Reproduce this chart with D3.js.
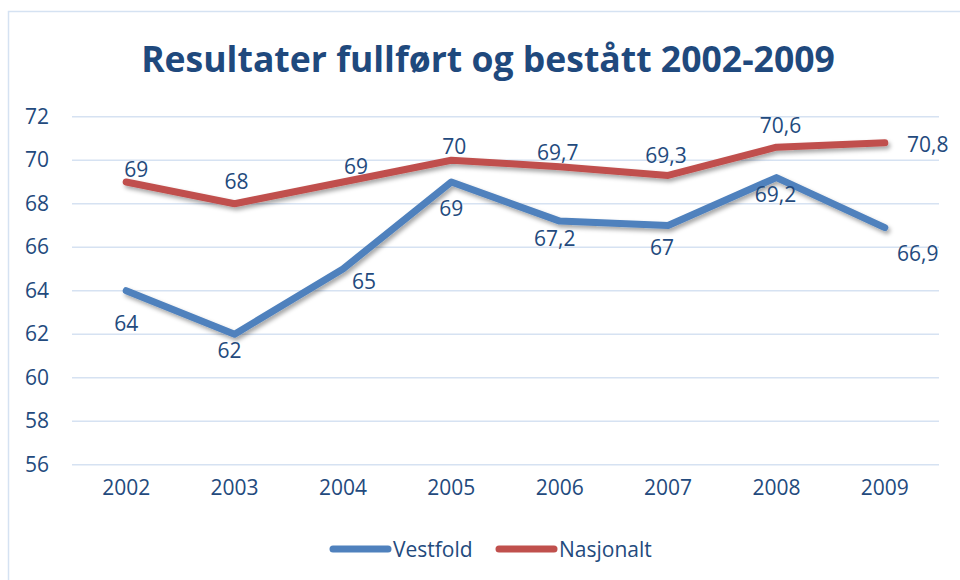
<!DOCTYPE html>
<html>
<head>
<meta charset="utf-8">
<script src="https://cdn.jsdelivr.net/npm/d3@7"></script>
<style>
  html, body { margin: 0; padding: 0; background: #fff; }
  svg { display: block; }
  text { font-family: "Open Sans", "Noto Sans", sans-serif; fill: #234a7d; }
</style>
</head>
<body>
<svg id="chart" width="960" height="580"></svg>
<script>
// ---- data ----
const years = ["2002", "2003", "2004", "2005", "2006", "2007", "2008", "2009"];
const vestfold = [64, 62, 65, 69, 67.2, 67, 69.2, 66.9];
const nasjonalt = [69, 68, 69, 70, 69.7, 69.3, 70.6, 70.8];
const seriesNames = ["Vestfold", "Nasjonalt"];
const yTicks = [56, 58, 60, 62, 64, 66, 68, 70, 72];
const titleText = "Resultater fullført og bestått 2002-2009";

// ---- layout / style (not data) ----
const colors = ["#4f81bd", "#c0504d"];
const labelOffsets = [
  [[0, 33], [-5, 16], [21, 12], [0, 26], [-5, 17], [-6, 22], [-1, 17], [33, 26]],
  [[10, -13], [2, -22], [13, -16], [3, -14], [-2, -14], [-2, -20], [4, -22], [43, 2]]
];
const fmt = v => String(v).replace(".", ",");

const svg = d3.select("#chart");
const defs = svg.append("defs");
const f = defs.append("filter").attr("id", "shadow")
  .attr("x", "-10%").attr("y", "-30%").attr("width", "120%").attr("height", "160%");
f.append("feDropShadow").attr("dx", 2).attr("dy", 3).attr("stdDeviation", 2)
  .attr("flood-color", "#000").attr("flood-opacity", 0.35);

// frame
svg.append("rect").attr("x", 8.5).attr("y", 11.5).attr("width", 1000).attr("height", 1000)
  .attr("fill", "none").attr("stroke", "#d5e2f2").attr("stroke-width", 1.5);

const x = d3.scaleBand().domain(years).range([72, 939]).padding(0);
const y = d3.scaleLinear().domain([56, 72]).range([464.7, 116.7]);

// gridlines
svg.append("g").selectAll("line").data(yTicks).join("line")
  .attr("x1", 72).attr("x2", 939)
  .attr("y1", d => y(d)).attr("y2", d => y(d))
  .attr("stroke", "#d6e2f2").attr("stroke-width", 1.5);

// y axis
const yAxis = svg.append("g").attr("transform", "translate(49,0)")
  .call(d3.axisLeft(y).tickValues(yTicks).tickSize(0).tickPadding(0));
yAxis.select(".domain").remove();
yAxis.selectAll("text").attr("font-size", 21).attr("fill", "#234a7d")
  .attr("font-family", "Open Sans, Noto Sans, sans-serif");

// x axis
const xAxis = svg.append("g").attr("transform", "translate(0,480)")
  .call(d3.axisBottom(x).tickSize(0).tickPadding(0));
xAxis.select(".domain").remove();
xAxis.selectAll("text").attr("font-size", 21).attr("fill", "#234a7d")
  .attr("font-family", "Open Sans, Noto Sans, sans-serif").attr("dy", "0.71em");

const cx = d => x(d) + x.bandwidth() / 2;
const line = d3.line().x((d, i) => cx(years[i])).y(d => y(d));

[vestfold, nasjonalt].forEach((vals, s) => {
  svg.append("path").datum(vals)
    .attr("d", line)
    .attr("fill", "none")
    .attr("stroke", colors[s])
    .attr("stroke-width", 7)
    .attr("stroke-linejoin", "round")
    .attr("stroke-linecap", "round")
    .attr("filter", "url(#shadow)");
});

[vestfold, nasjonalt].forEach((vals, s) => {
  svg.append("g").selectAll("text").data(vals).join("text")
    .attr("x", (d, i) => cx(years[i]) + labelOffsets[s][i][0])
    .attr("y", (d, i) => y(d) + labelOffsets[s][i][1])
    .attr("text-anchor", "middle")
    .attr("dy", "0.36em")
    .attr("font-size", 21)
    .text(d => fmt(d));
});

// title
const title = svg.append("text")
  .attr("x", 488).attr("y", 72)
  .attr("text-anchor", "middle")
  .attr("font-weight", "bold")
  .attr("font-size", 36)
  .attr("fill", "#1f497d")
  .style("fill", "#1f497d")
  .text(titleText);
const tw = title.node().getComputedTextLength();
title.attr("font-size", 36 * 694 / tw);

// legend
const legendX = [333, 499];
const lg = svg.append("g");
seriesNames.forEach((name, i) => {
  lg.append("line")
    .attr("x1", legendX[i]).attr("x2", legendX[i] + 55)
    .attr("y1", 549).attr("y2", 549)
    .attr("stroke", colors[i]).attr("stroke-width", 7)
    .attr("stroke-linecap", "round");
  lg.append("text")
    .attr("x", legendX[i] + 60).attr("y", 549)
    .attr("dy", "0.36em")
    .attr("font-size", 21)
    .text(name);
});
</script>
</body>
</html>
